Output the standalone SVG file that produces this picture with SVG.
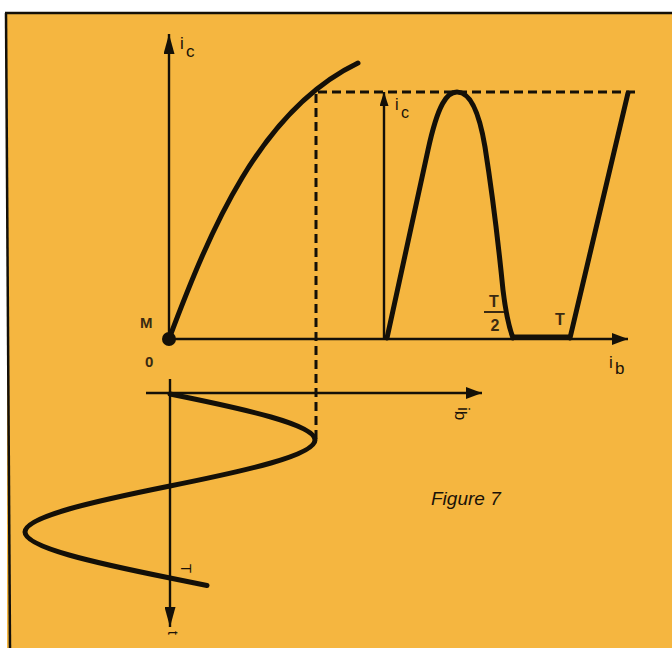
<svg xmlns="http://www.w3.org/2000/svg" width="672" height="648" viewBox="0 0 672 648">
<style>
.ax{stroke:#141008;stroke-width:2.4;fill:none}
.thick{stroke:#141008;stroke-width:5;fill:none;stroke-linecap:round;stroke-linejoin:round}
.dash{stroke:#141008;stroke-width:3;fill:none;stroke-dasharray:9 5}
.lbl{font-family:"Liberation Sans",Arial,sans-serif;fill:#1a1208}
.lblb{font-family:"Liberation Sans",Arial,sans-serif;fill:#3a2a12;font-weight:bold}
</style>
<defs>
<marker id="arr" viewBox="0 0 16 12" refX="16" refY="6" markerWidth="16" markerHeight="12" markerUnits="userSpaceOnUse" orient="auto"><path d="M0,0 L16,6 L0,12 z" fill="#141008"/></marker>
<marker id="arrLong" viewBox="0 0 20 11" refX="20" refY="5.5" markerWidth="20" markerHeight="11" markerUnits="userSpaceOnUse" orient="auto"><path d="M0,0 L20,5.5 L0,11 z" fill="#141008"/></marker>
<marker id="arrSmall" viewBox="0 0 14 9" refX="14" refY="4.5" markerWidth="14" markerHeight="9" markerUnits="userSpaceOnUse" orient="auto"><path d="M0,0 L14,4.5 L0,9 z" fill="#141008"/></marker>
</defs>
<rect x="0" y="0" width="672" height="648" fill="#ffffff"/>
<rect x="7" y="13" width="665" height="635" fill="#F5B640"/>
<line x1="5" y1="13" x2="672" y2="13" stroke="#141008" stroke-width="2.5"/>
<line x1="6" y1="13" x2="10" y2="648" stroke="#141008" stroke-width="2.5"/>

<g id="connectors">
<line class="ax" x1="169" y1="339" x2="169" y2="34" marker-end="url(#arrLong)"/>
<line class="ax" x1="169" y1="339" x2="628" y2="339" marker-end="url(#arr)"/>
<line class="ax" x1="384" y1="339" x2="384" y2="92" marker-end="url(#arrSmall)"/>
<line class="ax" x1="146" y1="393" x2="482" y2="393" marker-end="url(#arr)"/>
<line class="ax" x1="170" y1="379" x2="170" y2="627" marker-end="url(#arrLong)"/>
<line class="dash" x1="318" y1="92" x2="640" y2="92"/>
<line class="dash" x1="316" y1="94" x2="316" y2="443"/>
</g>

<g id="transfer-curve">
<path class="thick" d="M169,339 C210,230 260,110 358,63"/>
<circle cx="169" cy="339" r="7" fill="#141008"/>
</g>

<g id="output-wave">
<path class="thick" d="M387,338 L428,150 C438,104 447,92 457,92 C468,92 478,105 485,147 C491,185 498,240 503,290 C506,315 510,330 513,338"/>
<line x1="513" y1="337" x2="570" y2="337" stroke="#141008" stroke-width="5"/>
<line class="thick" x1="570" y1="338" x2="628" y2="93"/>
</g>

<g id="input-sine">
<path class="thick" d="M170,394 C245.9,409.3 315,424.7 315,440 C315,455.3 245.9,470.7 170,486 C94.1,501.3 25,516.7 25,532 C25,547.3 94.1,562.7 170,578 L207,585.5"/>
</g>

<g id="labels">
<text class="lbl" x="180" y="49" font-size="17">i</text>
<text class="lbl" x="186" y="57" font-size="17">c</text>
<text class="lbl" x="395" y="110" font-size="16">i</text>
<text class="lbl" x="401" y="118" font-size="16">c</text>
<text class="lblb" x="140" y="328" font-size="15">M</text>
<text class="lblb" x="145" y="367" font-size="15">0</text>
<text class="lblb" x="494" y="307" font-size="16" text-anchor="middle">T</text>
<line x1="484" y1="312" x2="504" y2="312" stroke="#3a2a12" stroke-width="2"/>
<text class="lblb" x="495" y="331" font-size="16" text-anchor="middle">2</text>
<text class="lblb" x="560" y="325" font-size="16" text-anchor="middle">T</text>
<text class="lbl" x="609" y="368" font-size="17">i</text>
<text class="lbl" x="615" y="374" font-size="17">b</text>
<text class="lbl" transform="translate(458,407) rotate(90)" font-size="17">i<tspan dy="3">b</tspan></text>
<text class="lbl" transform="translate(168,631) rotate(90)" font-size="14">t</text>
<text class="lbl" transform="translate(181,564) rotate(90)" font-size="15">T</text>
<text class="lbl" x="431" y="505" font-size="19" font-style="italic">Figure 7</text>
</g>
</svg>
